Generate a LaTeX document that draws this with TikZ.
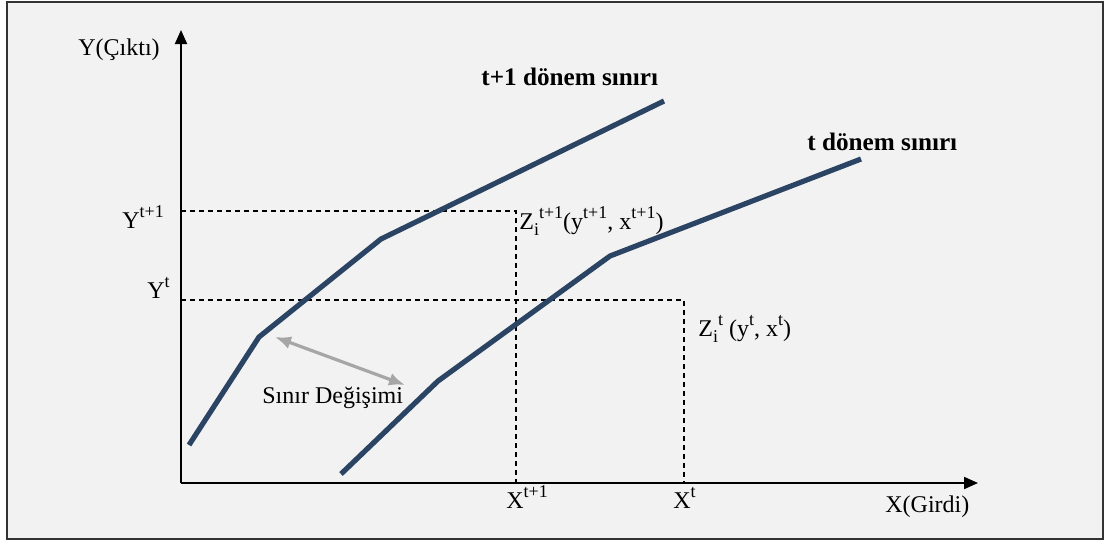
\documentclass[tikz,border=0pt]{standalone}
\usepackage{fontspec}
\setmainfont{Liberation Serif}
\usetikzlibrary{arrows.meta}
\definecolor{frontblue}{RGB}{43,68,99}
\definecolor{shiftgray}{RGB}{166,166,166}
\definecolor{panelgray}{RGB}{242,242,242}
\newcommand{\supx}[1]{\raisebox{0.42em}{\fontsize{9}{10}\selectfont #1}}
\newcommand{\subx}[1]{\raisebox{-0.25em}{\fontsize{9}{10}\selectfont #1}}

\begin{document}
\begin{tikzpicture}[x=0.5pt, y=-0.5pt,
    axis/.style={line width=1pt, -{Triangle[length=7pt, width=6pt]}},
    frontier/.style={frontblue, line width=2.6pt, line join=round},
    guide/.style={line width=0.7pt, dash pattern=on 2.5pt off 2pt},
    lbl/.style={anchor=base west, inner sep=0pt, font=\fontsize{12}{14}\selectfont},
    curvelbl/.style={lbl, font=\fontsize{12.6}{15}\selectfont\bfseries}]

    % frame
    \useasboundingbox (0,0) rectangle (1105,543);
    \fill[white] (0,0) rectangle (1105,543);
    \draw[fill=panelgray, draw=black!80, line width=1pt] (7,2) rectangle (1103,539);

    % axes
    \coordinate (O) at (181,483);
    \coordinate (ytop) at (181,30);
    \coordinate (xend) at (978,483);
    \draw[axis] (O) -- (ytop);
    \draw[axis] (O) -- (xend);

    % guide lines
    \coordinate (ytp) at (181,211);
    \coordinate (zt1) at (516,211);
    \coordinate (xtp) at (516,483);
    \coordinate (yt) at (181,300);
    \coordinate (zt) at (684,300);
    \coordinate (xt) at (684,483);
    \draw[guide] (ytp) -- (zt1) -- (xtp);
    \draw[guide] (yt) -- (zt) -- (xt);

    % frontiers
    \coordinate (a1) at (189,445);
    \coordinate (a2) at (259,337);
    \coordinate (a3) at (381,239);
    \coordinate (a4) at (664,101);
    \coordinate (b1) at (341,474);
    \coordinate (b2) at (438,381);
    \coordinate (b3) at (610,256);
    \coordinate (b4) at (861,159);
    \draw[frontier] (a1) -- (a2) -- (a3) -- (a4);
    \draw[frontier] (b1) -- (b2) -- (b3) -- (b4);

    % shift
    \coordinate (s1) at (275,337);
    \coordinate (s2) at (405,385);
    \draw[shiftgray, line width=1.6pt,
          {Latex[length=8pt, width=6.5pt]}-{Latex[length=8pt, width=6.5pt]}] (s1) -- (s2);

    % labels
    \node[lbl] (ylab) at (78,55) {Y(Çıktı)};
    \node[lbl] (xlab) at (885,512) {X(Girdi)};
    \node[curvelbl] (lt1) at (481,85) {t+1 dönem sınırı};
    \node[curvelbl] (lt) at (807,150) {t dönem sınırı};
    \node[lbl] (lytp) at (122,228) {Y\supx{t+1}};
    \node[lbl] (lyt) at (147,298) {Y\supx{t}};
    \node[lbl] (lxtp) at (506,508) {X\supx{t+1}};
    \node[lbl] (lxt) at (673,508) {X\supx{t}};
    \node[lbl] (lzt1) at (519,229)
        {Z\subx{i}\supx{t+1}(y\supx{t+1}, x\supx{t+1})};
    \node[lbl] (lzt) at (698,336)
        {Z\subx{i}\supx{t} (y\supx{t}, x\supx{t})};
    \node[lbl] (lshift) at (262,403) {Sınır Değişimi};

\end{tikzpicture}
\end{document}
